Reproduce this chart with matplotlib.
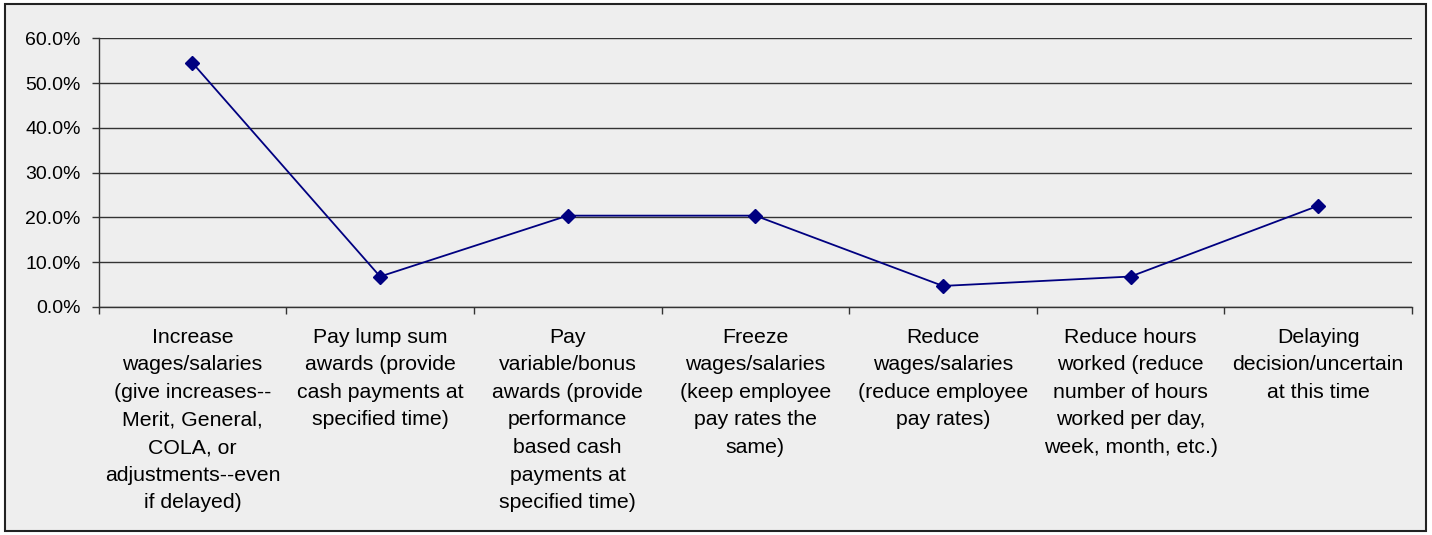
import matplotlib
matplotlib.use("Agg")
import matplotlib.pyplot as plt
from matplotlib.patches import Rectangle
from matplotlib.ticker import FuncFormatter

categories = [
    "Increase\nwages/salaries\n(give increases--\nMerit, General,\nCOLA, or\nadjustments--even\nif delayed)",
    "Pay lump sum\nawards (provide\ncash payments at\nspecified time)",
    "Pay\nvariable/bonus\nawards (provide\nperformance\nbased cash\npayments at\nspecified time)",
    "Freeze\nwages/salaries\n(keep employee\npay rates the\nsame)",
    "Reduce\nwages/salaries\n(reduce employee\npay rates)",
    "Reduce hours\nworked (reduce\nnumber of hours\nworked per day,\nweek, month, etc.)",
    "Delaying\ndecision/uncertain\nat this time",
]
values = [54.5, 6.8, 20.4, 20.4, 4.7, 6.8, 22.6]
y_ticks = [0, 10, 20, 30, 40, 50, 60]

bg = "#eeeeee"
plt.rcParams["font.family"] = ["Liberation Sans", "DejaVu Sans"]

fig = plt.figure(figsize=(14.32, 5.35), dpi=100)
fig.patch.set_facecolor("white")
# chart area frame, drawn behind the axes
fig.patches.append(Rectangle((5 / 1432, 4 / 535), 1421 / 1432, 527 / 535,
                             transform=fig.transFigure, facecolor=bg,
                             edgecolor="#222222", linewidth=1.5, zorder=-10))

ax = fig.add_axes([0.0689, 0.4262, 0.9171, 0.5022])
ax.set_facecolor(bg)

x = range(len(values))
ax.plot(x, values, color="#000080", linewidth=1.3, marker="D", markersize=7,
        markerfacecolor="#000080", markeredgecolor="#000080", zorder=3)

ax.set_xlim(-0.5, len(values) - 0.5)
ax.set_ylim(0, 60)
ax.set_yticks(y_ticks)
ax.yaxis.set_major_formatter(FuncFormatter(lambda v, p: "%.1f%%" % v))
ax.grid(axis="y", color="#333333", linewidth=1.0)
ax.set_axisbelow(True)

ax.set_xticks(list(x))
ax.set_xticklabels(categories, fontsize=15.3, linespacing=1.57, va="top")
ax.set_xticks([i - 0.5 for i in range(len(values) + 1)], minor=True)
ax.tick_params(axis="x", which="major", length=0, pad=15)
ax.tick_params(axis="x", which="minor", length=5, width=1, color="#333333", direction="out")
ax.tick_params(axis="y", length=5, width=1, color="#333333", labelsize=14, pad=8)

for side in ["top", "right"]:
    ax.spines[side].set_visible(False)
for side in ["left", "bottom"]:
    ax.spines[side].set_color("#333333")
    ax.spines[side].set_linewidth(1.0)

fig.savefig("out.png", dpi=100, facecolor="white")
